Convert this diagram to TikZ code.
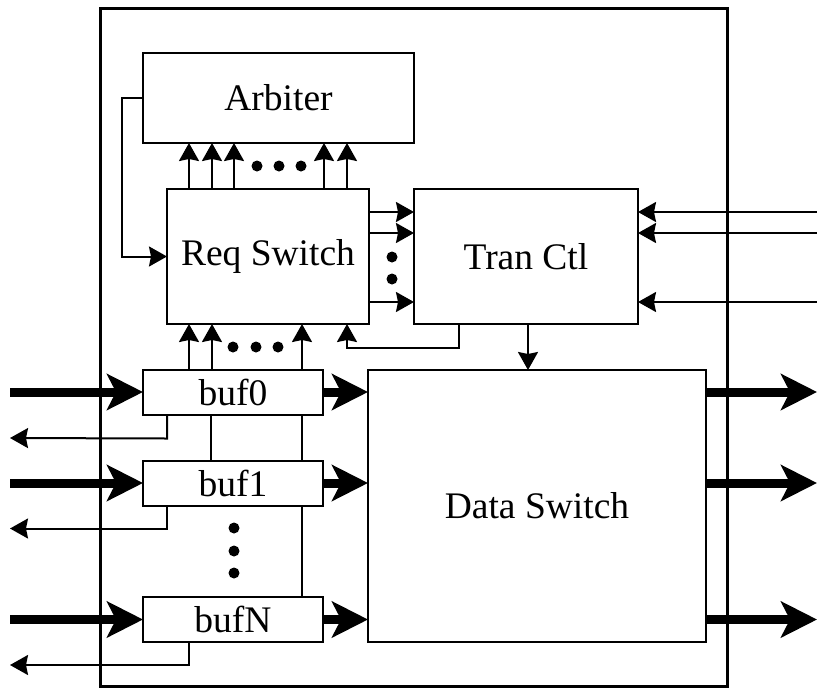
\documentclass[tikz,border=0pt]{standalone}
\usepackage{fontspec}
\setmainfont{Liberation Serif}
\usetikzlibrary{arrows.meta}
\begin{document}
\begin{tikzpicture}[x=1pt,y=-1pt,
  box/.style={draw, line width=2pt, inner sep=0pt, outer sep=0pt, fill=white,
    font=\fontsize{37.5}{40}\selectfont},
  arr/.style={line width=2pt, -{Stealth[length=18pt,width=20pt,inset=2pt]}},
  ln/.style={line width=2pt},
  fat/.style={line width=9pt, -{Stealth[length=36pt,width=36pt,inset=9pt]}},
  dot/.style={fill=black}]
\useasboundingbox (0,0) rectangle (817,689);
% frame
\node[draw, line width=3pt, inner sep=0pt, outer sep=0pt, minimum width=627pt, minimum height=678pt] (frame) at (413.5,347) {};
% boxes
\node[box, minimum width=271pt, minimum height=90pt] (arb) at (278.5,98) {Arbiter};
\node[box, minimum width=202pt, minimum height=135pt] (rs) at (268,256.5) {Req Switch};
\node[box, minimum width=224pt, minimum height=135pt] (tc) at (526,256.5) {Tran Ctl};
\node[box, minimum width=180pt, minimum height=45pt] (b0) at (233,392) {buf0};
\node[box, minimum width=180pt, minimum height=45pt] (b1) at (233,483) {buf1};
\node[box, minimum width=180pt, minimum height=45pt] (bN) at (233,619.5) {bufN};
\node[box, minimum width=338pt, minimum height=272pt] (ds) at (537,506) {Data Switch};
% arbiter feedback
\draw[arr] (arb.west) -- ++(-21,0) |- (rs.west);
% req switch -> arbiter
\foreach \x in {189,212,234,324,347} {
  \coordinate (t) at (\x,0);
  \draw[arr] (rs.north -| t) -- (arb.south -| t);
}
\foreach \x in {257,279,301} \fill[dot] (\x,166) circle (5.5);
% req switch -> tran ctl
\foreach \y in {212,233,302} {
  \coordinate (t) at (0,\y);
  \draw[arr] (rs.east |- t) -- (tc.west |- t);
  \coordinate (r) at (817,\y);
  \draw[arr] (r) -- (tc.east |- t);
}
\foreach \y in {257,279} \fill[dot] (392,\y) circle (5.5);
% buf0 -> req switch
\foreach \x in {189,212,302} {
  \coordinate (t) at (\x,0);
  \draw[arr] (b0.north -| t) -- (rs.south -| t);
}
\foreach \x in {233,256,278} \fill[dot] (\x,347) circle (5.5);
% tran ctl -> req switch feedback
\draw[arr] ([xshift=-67pt]tc.south) -- ++(0,24) -| ([xshift=79pt]rs.south);
% tran ctl -> data switch
\coordinate (td) at ([xshift=2pt]tc.south);
\draw[arr] (td) -- (ds.north -| td);
% buffer links
\foreach \x in {211,302} {
  \coordinate (t) at (\x,0);
  \draw[ln] (b0.south -| t) -- (b1.north -| t);
}
\coordinate (t) at (302,0);
\draw[ln] (b1.south -| t) -- (bN.north -| t);
\foreach \y in {528,551,573} \fill[dot] (234,\y) circle (5.5);
% thick inputs and outputs
\coordinate (in) at (10,0);
\coordinate (out) at (817,0);
\foreach \b in {b0,b1,bN} {
  \draw[fat] (in |- \b.west) -- (\b.west);
  \draw[fat] (\b.east) -- (ds.west |- \b.east);
  \draw[fat] (ds.east |- \b.east) -- (out |- \b.east);
}
% returns
\coordinate (l1) at (10,438);
\coordinate (l2) at (10,528.5);
\coordinate (l3) at (10,665);
\draw[arr] ([xshift=-66pt]b0.south) -- ++(0,24) -- (l1);
\draw[arr] ([xshift=-66pt]b1.south) -- ++(0,23) -- (l2);
\draw[arr] ([xshift=-44pt]bN.south) -- ++(0,23) -- (l3);
\end{tikzpicture}
\end{document}
